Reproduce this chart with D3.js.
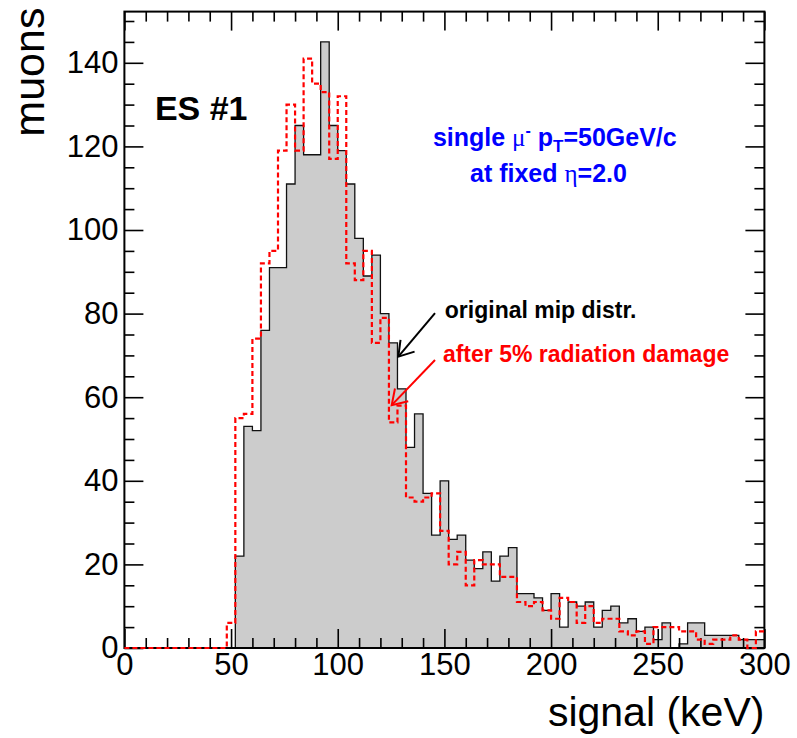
<!DOCTYPE html>
<html>
<head>
<meta charset="utf-8">
<script src="https://cdn.jsdelivr.net/npm/d3@7"></script>
<style>
  body { margin: 0; background: #fff; }
  svg { display: block; font-family: "Liberation Sans", Arial, sans-serif; }
</style>
</head>
<body>
<div id="chart"></div>
<script>
// bins of 4 keV from 0 to 300
var binWidth = 4
var binStarts = d3.range(0, 300, binWidth)

var originalCounts = [
  0, 0, 0, 0, 0, 0, 0, 0, 0, 0, 0, 0,
  0, 22, 53, 52, 76, 91, 91, 111, 125, 118, 118, 145, 125,
  119, 111, 98, 89, 94, 80, 73, 62, 48, 56, 37, 27, 40,
  26, 27, 21, 19, 23, 16, 22, 24, 13, 13, 12, 9, 13,
  5, 11, 10, 11, 5, 9, 10, 6, 7, 4, 5, 2, 6,
  0, 1, 6, 6, 3, 3, 3, 3, 2, 2, 2
]

var damagedCounts = [
  0, 0, 0, 0, 0, 0, 0, 0, 0, 0, 0, 0,
  6, 55, 56, 74, 92, 95, 119, 130, 119, 141, 135, 133, 117,
  132, 92, 88, 95, 73, 79, 54, 58, 36, 35, 36, 37, 28,
  20, 23, 15, 21, 20, 20, 17, 17, 11, 10, 11, 9, 7,
  12, 11, 6, 10, 6, 7, 7, 4, 3, 4, 1, 5, 5,
  5, 4, 4, 2, 1, 2, 2, 3, 2, 0, 4
]

var xMajorTicks = [0, 50, 100, 150, 200, 250, 300]
var yMajorTicks = [0, 20, 40, 60, 80, 100, 120, 140]

var width = 797
var height = 738
var margin = {left: 124.4, right: 32.6, top: 11.6, bottom: 90}

var x = d3.scaleLinear().domain([0, 300]).range([margin.left, width - margin.right])
var y = d3.scaleLinear().domain([0, 152.25]).range([height - margin.bottom, margin.top])

var svg = d3.select('#chart').append('svg')
  .attr('width', width)
  .attr('height', height)

function toPoints(counts) {
  let pts = binStarts.map((b, i) => [b, counts[i]])
  pts.push([300, counts[counts.length - 1]])
  return pts
}

// grey filled original distribution
svg.append('path')
  .datum(toPoints(originalCounts))
  .attr('d', d3.area().curve(d3.curveStepAfter)
    .x(d => x(d[0])).y0(y(0)).y1(d => y(d[1])))
  .attr('fill', '#cccccc')

svg.append('path')
  .datum(toPoints(originalCounts))
  .attr('d', d3.line().curve(d3.curveStepAfter)
    .x(d => x(d[0])).y(d => y(d[1])))
  .attr('fill', 'none')
  .attr('stroke', '#111')
  .attr('stroke-width', 1.3)

// axes, ticks on all four sides pointing inward
var xMinor = d3.range(0, 301, 10).filter(v => v % 50 != 0)
var yMinor = d3.range(0, 151, 5).filter(v => v % 20 != 0)

function styleAxis(g) {
  g.select('.domain').remove()
  g.selectAll('line').attr('stroke', '#000').attr('stroke-width', 1.6)
  g.selectAll('text').attr('font-size', 31).attr('fill', '#000')
}

svg.append('g')
  .attr('transform', `translate(0,${y(0)})`)
  .call(d3.axisBottom(x).tickValues(xMajorTicks).tickSizeInner(-19).tickSizeOuter(0).tickPadding(5).tickFormat(d3.format('d')))
  .call(styleAxis)
svg.append('g')
  .attr('transform', `translate(0,${y(0)})`)
  .call(d3.axisBottom(x).tickValues(xMinor).tickSizeInner(-10).tickSizeOuter(0).tickFormat(''))
  .call(styleAxis)
svg.append('g')
  .attr('transform', `translate(0,${margin.top})`)
  .call(d3.axisTop(x).tickValues(xMajorTicks).tickSizeInner(-19).tickSizeOuter(0).tickFormat(''))
  .call(styleAxis)
svg.append('g')
  .attr('transform', `translate(0,${margin.top})`)
  .call(d3.axisTop(x).tickValues(xMinor).tickSizeInner(-10).tickSizeOuter(0).tickFormat(''))
  .call(styleAxis)

svg.append('g')
  .attr('transform', `translate(${margin.left},0)`)
  .call(d3.axisLeft(y).tickValues(yMajorTicks).tickSizeInner(-19).tickSizeOuter(0).tickPadding(6).tickFormat(d3.format('d')))
  .call(styleAxis)
svg.append('g')
  .attr('transform', `translate(${margin.left},0)`)
  .call(d3.axisLeft(y).tickValues(yMinor).tickSizeInner(-10).tickSizeOuter(0).tickFormat(''))
  .call(styleAxis)
svg.append('g')
  .attr('transform', `translate(${width - margin.right},0)`)
  .call(d3.axisRight(y).tickValues(yMajorTicks).tickSizeInner(-19).tickSizeOuter(0).tickFormat(''))
  .call(styleAxis)
svg.append('g')
  .attr('transform', `translate(${width - margin.right},0)`)
  .call(d3.axisRight(y).tickValues(yMinor).tickSizeInner(-10).tickSizeOuter(0).tickFormat(''))
  .call(styleAxis)

// frame
svg.append('rect')
  .attr('x', x(0))
  .attr('y', y(152.25))
  .attr('width', x(300) - x(0))
  .attr('height', y(0) - y(152.25))
  .attr('fill', 'none')
  .attr('stroke', '#000')
  .attr('stroke-width', 2)

// red dashed damaged distribution, drawn on top
svg.append('path')
  .datum(toPoints(damagedCounts))
  .attr('d', d3.line().curve(d3.curveStepAfter)
    .x(d => x(d[0])).y(d => y(d[1])))
  .attr('fill', 'none')
  .attr('stroke', '#ff0000')
  .attr('stroke-width', 2.2)
  .attr('stroke-dasharray', '5,3')

// axis titles
svg.append('text')
  .attr('x', x(300))
  .attr('y', 726)
  .attr('text-anchor', 'end')
  .attr('font-size', 41)
  .text('signal (keV)')

svg.append('text')
  .attr('transform', `translate(44,${margin.top - 4}) rotate(-90)`)
  .attr('text-anchor', 'end')
  .attr('font-size', 43)
  .text('muons')

// labels
svg.append('text')
  .attr('x', x(14.3))
  .attr('y', y(126.2))
  .attr('font-size', 34)
  .attr('font-weight', 'bold')
  .text('ES #1')

var blue1 = svg.append('text')
  .attr('x', x(144.6))
  .attr('y', y(120))
  .attr('font-size', 25)
  .attr('font-weight', 'bold')
  .attr('fill', '#0000ff')
blue1.append('tspan').text('single ')
blue1.append('tspan').attr('font-family', 'Liberation Serif').attr('font-weight', 'normal').text('\u03bc')
blue1.append('tspan').attr('font-size', 16).attr('dy', -10).text('-')
blue1.append('tspan').attr('dy', 10).text(' p')
blue1.append('tspan').attr('font-size', 17).attr('dy', 6).text('T')
blue1.append('tspan').attr('dy', -6).text('=50GeV/c')

var blue2 = svg.append('text')
  .attr('x', x(162))
  .attr('y', y(111.5))
  .attr('font-size', 25)
  .attr('font-weight', 'bold')
  .attr('fill', '#0000ff')
blue2.append('tspan').text('at fixed ')
blue2.append('tspan').attr('font-family', 'Liberation Serif').attr('font-weight', 'normal').text('\u03b7')
blue2.append('tspan').text('=2.0')

svg.append('text')
  .attr('x', x(150.2))
  .attr('y', y(79))
  .attr('font-size', 23)
  .attr('font-weight', 'bold')
  .attr('fill', '#000')
  .text('original mip distr.')

svg.append('text')
  .attr('x', x(149.3))
  .attr('y', y(68.5))
  .attr('font-size', 23)
  .attr('font-weight', 'bold')
  .attr('fill', '#ff0000')
  .text('after 5% radiation damage')

// arrows, in data coordinates
var arrows = [
  {from: [145.6, 80.1], to: [128.4, 69.7], color: '#000'},
  {from: [145.6, 68.9], to: [125.3, 58.1], color: '#ff0000'}
]

arrows.forEach(a => {
  let x1 = x(a.from[0]), y1 = y(a.from[1])
  let x2 = x(a.to[0]), y2 = y(a.to[1])
  let ang = Math.atan2(y2 - y1, x2 - x1)
  let len = 17, spread = Math.PI / 5.5
  svg.append('line')
    .attr('x1', x1).attr('y1', y1).attr('x2', x2).attr('y2', y2)
    .attr('stroke', a.color).attr('stroke-width', 2)
  svg.append('path')
    .attr('d', `M${x2 - len * Math.cos(ang - spread)},${y2 - len * Math.sin(ang - spread)}L${x2},${y2}L${x2 - len * Math.cos(ang + spread)},${y2 - len * Math.sin(ang + spread)}`)
    .attr('fill', 'none')
    .attr('stroke', a.color)
    .attr('stroke-width', 2)
})
</script>
</body>
</html>
